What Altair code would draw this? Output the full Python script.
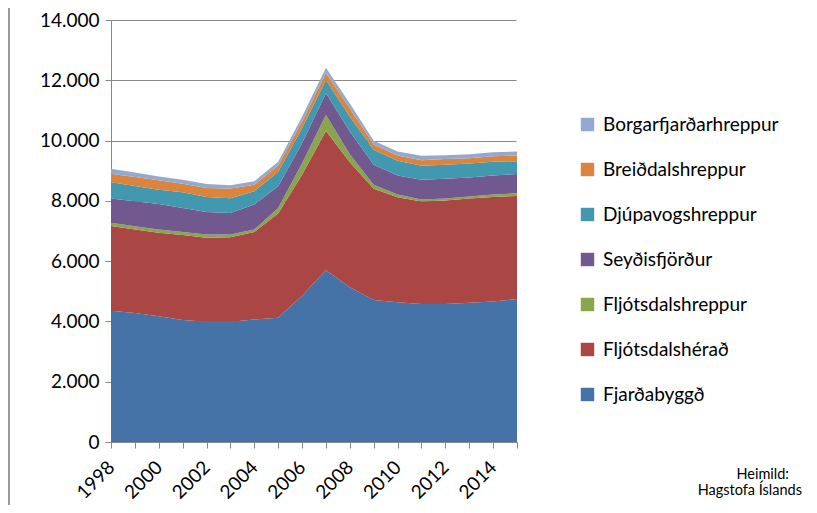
import altair as alt
import pandas as pd

years = [str(y) for y in range(1998, 2016)]

legend_order = [
    "Borgarfjarðarhreppur",
    "Breiðdalshreppur",
    "Djúpavogshreppur",
    "Seyðisfjörður",
    "Fljótsdalshreppur",
    "Fljótsdalshérað",
    "Fjarðabyggð",
]
colors = ["#93A9CF", "#DB843D", "#4198AF", "#71588F", "#89A54E", "#AA4643", "#4572A7"]

fjardabyggd = [4356, 4280, 4170, 4050, 3990, 3990, 4060, 4120, 4850, 5700, 5130, 4715, 4635, 4575, 4580, 4620, 4665, 4740]
fljotsdalsherad = [2806, 2770, 2771, 2815, 2786, 2800, 2904, 3460, 4018, 4620, 4150, 3685, 3484, 3401, 3429, 3455, 3465, 3423]
fljotsdalshreppur = [109, 110, 111, 99, 112, 90, 88, 186, 382, 528, 270, 137, 88, 66, 66, 66, 77, 88]
seydisfjordur = [804, 825, 846, 802, 746, 720, 825, 716, 661, 722, 747, 660, 638, 660, 660, 638, 638, 638]
djupavogshreppur = [539, 505, 472, 518, 495, 490, 440, 483, 496, 440, 495, 495, 485, 462, 462, 462, 451, 429]
breiddalshreppur = [286, 300, 310, 286, 297, 320, 220, 205, 220, 234, 274, 178, 175, 187, 188, 176, 187, 187]
borgarfjardarhreppur = [165, 150, 132, 130, 132, 105, 110, 130, 165, 171, 165, 120, 132, 144, 132, 133, 132, 132]

stack_series = [
    ("Fjarðabyggð", fjardabyggd),
    ("Fljótsdalshérað", fljotsdalsherad),
    ("Fljótsdalshreppur", fljotsdalshreppur),
    ("Seyðisfjörður", seydisfjordur),
    ("Djúpavogshreppur", djupavogshreppur),
    ("Breiðdalshreppur", breiddalshreppur),
    ("Borgarfjarðarhreppur", borgarfjardarhreppur),
]

source_lines = ["Heimild:", "Hagstofa Íslands"]

rows = []
for idx, (name, vals) in enumerate(stack_series):
    for y, v in zip(years, vals):
        rows.append({"year": y, "series": name, "value": v, "idx": idx})
df = pd.DataFrame(rows)

FONT = "Lato"
GRID = "#888888"

areas = alt.Chart(df).mark_area(opacity=1).encode(
    x=alt.X(
        "year:O",
        scale=alt.Scale(type="point", padding=0),
        axis=alt.Axis(
            title=None,
            labelAngle=-45,
            labelAlign="right",
            labelBaseline="middle",
            labelExpr="parseInt(datum.value) % 2 == 0 && parseInt(datum.value) < 2015 ? datum.label : ''",
            labelFontSize=19,
            labelFont=FONT,
            labelColor="#000000",
            labelPadding=16,
            labelLimit=0,
            tickSize=6,
            tickColor=GRID,
            domainColor=GRID,
            grid=False,
        ),
    ),
    y=alt.Y(
        "value:Q",
        stack="zero",
        scale=alt.Scale(domain=[0, 14000], nice=False),
        axis=alt.Axis(
            title=None,
            values=list(range(0, 14001, 2000)),
            labelExpr="replace(format(datum.value, ','), ',', '.')",
            labelFontSize=19,
            labelFont=FONT,
            labelColor="#000000",
            labelPadding=6,
            tickSize=6,
            tickColor=GRID,
            domainColor=GRID,
            gridColor=GRID,
            gridWidth=1,
        ),
    ),
    color=alt.Color(
        "series:N",
        scale=alt.Scale(domain=legend_order, range=colors),
        legend=alt.Legend(
            title=None,
            orient="none",
            legendX=467,
            legendY=95,
            symbolType="square",
            symbolSize=180,
            symbolStrokeWidth=0,
            labelFontSize=19,
            labelFont=FONT,
            labelColor="#000000",
            labelOffset=6,
            labelLimit=0,
            rowPadding=25,
        ),
    ),
    order=alt.Order("idx:Q", sort="ascending"),
)

one = alt.Data(values=[{"a": 1}])

# white cover for the plot's right edge (the reference has no right frame)
cover = alt.Chart(one).mark_rule(color="#ffffff", strokeWidth=3).encode(
    x=alt.value(407), y=alt.value(-1), y2=alt.value(421)
)

src1 = alt.Chart(one).mark_text(
    text=source_lines[0], align="right", baseline="alphabetic", fontSize=14.5,
    font=FONT, fontWeight="normal", color="#000000"
).encode(x=alt.value(678), y=alt.value(459))
src2 = alt.Chart(one).mark_text(
    text=source_lines[1], align="right", baseline="alphabetic", fontSize=14.5,
    font=FONT, fontWeight="normal", color="#000000"
).encode(x=alt.value(691), y=alt.value(475))

border = alt.Chart(one).mark_rule(color="#999999", strokeWidth=2).encode(
    x=alt.value(-102), y=alt.value(-14), y2=alt.value(488)
)

chart = alt.layer(cover, areas, src1, src2, border).properties(
    width=406,
    height=422,
    background="white",
    autosize=alt.AutoSizeParams(type="none"),
    padding={"left": 103, "top": 12, "right": 292, "bottom": 63},
).configure_view(strokeWidth=0, stroke="transparent")

chart.save("out.html", embed_options={"renderer": "svg", "actions": False})
